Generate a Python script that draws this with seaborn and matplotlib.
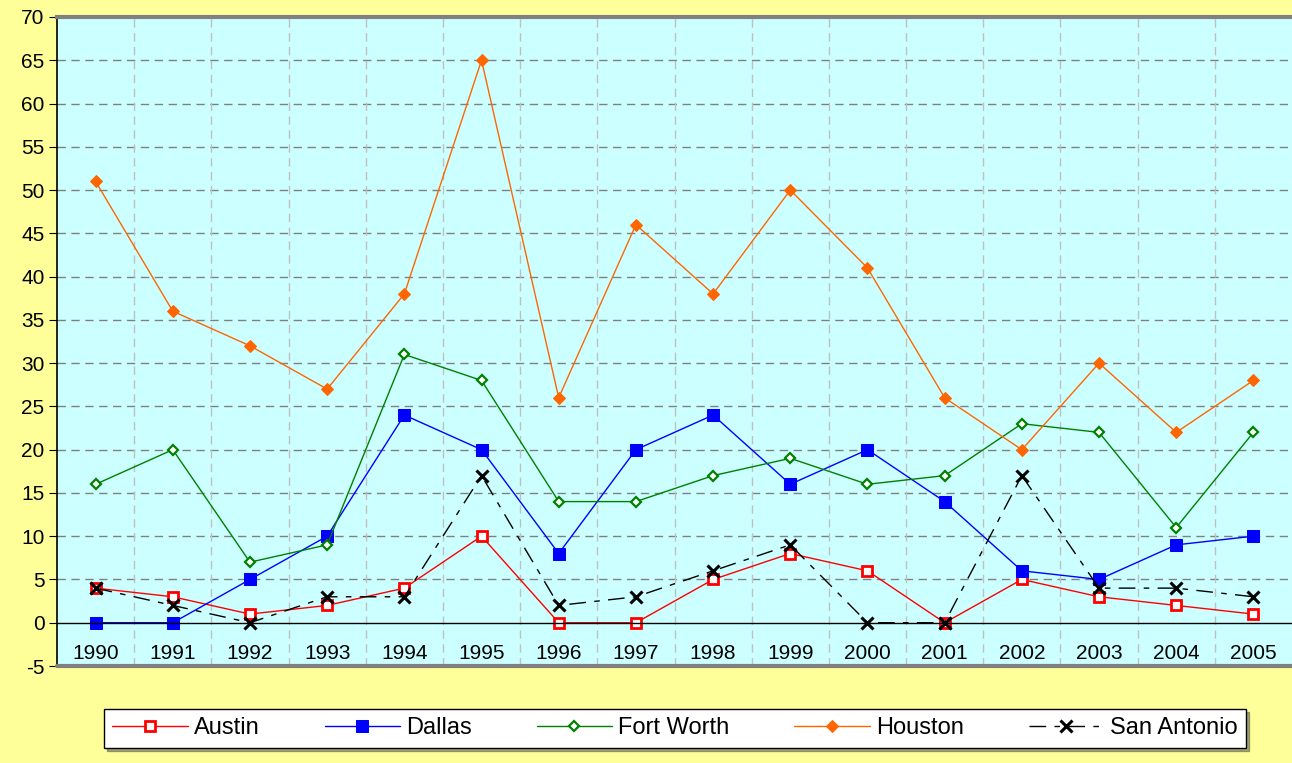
import numpy as np
import pandas as pd
import seaborn as sns
import matplotlib.pyplot as plt

# Data
years = [str(y) for y in range(1990, 2006)]
austin = [4, 3, 1, 2, 4, 10, 0, 0, 5, 8, 6, 0, 5, 3, 2, 1]
dallas = [0, 0, 5, 10, 24, 20, 8, 20, 24, 16, 20, 14, 6, 5, 9, 10]
fort_worth = [16, 20, 7, 9, 31, 28, 14, 14, 17, 19, 16, 17, 23, 22, 11, 22]
houston = [51, 36, 32, 27, 38, 65, 26, 46, 38, 50, 41, 26, 20, 30, 22, 28]
san_antonio = [4, 2, 0, 3, 3, 17, 2, 3, 6, 9, 0, 0, 17, 4, 4, 3]

sns.set_style("white")
plt.rcParams['font.family'] = ['Liberation Sans', 'DejaVu Sans']
plt.rcParams['axes.unicode_minus'] = False
plt.rcParams['text.color'] = 'black'
plt.rcParams['xtick.color'] = 'black'
plt.rcParams['ytick.color'] = 'black'

df = pd.DataFrame({'idx': np.arange(len(years)), 'Austin': austin, 'Dallas': dallas,
                   'Fort Worth': fort_worth, 'Houston': houston, 'San Antonio': san_antonio})

fig = plt.figure(figsize=(12.92, 7.63), dpi=100, facecolor='#FFFF99')
ax = fig.add_axes([57/1292, 97/763, 1 - 57/1292, (666-17)/763])
ax.set_facecolor('#CCFFFF')

styles = {
    'Austin': dict(color='#FF0000', marker='s', markersize=7, markerfacecolor='white',
                   markeredgecolor='#FF0000', markeredgewidth=2, linewidth=1),
    'Dallas': dict(color='#0000FF', marker='s', markersize=8, markerfacecolor='#0000FF',
                   markeredgecolor='#0000FF', linewidth=1),
    'Fort Worth': dict(color='#008000', marker='D', markersize=5, markerfacecolor='white',
                       markeredgecolor='#008000', markeredgewidth=1.6, linewidth=1),
    'Houston': dict(color='#FF6600', marker='D', markersize=6.5, markerfacecolor='#FF6600',
                    markeredgecolor='#FF6600', linewidth=1),
    'San Antonio': dict(color='black', marker='x', markersize=8, markeredgewidth=2.2,
                        markeredgecolor='black', linewidth=1, dashes=(12, 6, 4, 6)),
}

for name, kw in styles.items():
    sns.lineplot(data=df, x='idx', y=name, ax=ax, label=name, legend=False, **kw)

ax.set_xlim(-0.5, len(years) - 0.5)
ax.set_ylim(-5, 70)
ax.set_yticks(range(-5, 71, 5))
ax.set_xlabel('')
ax.set_ylabel('')

# x axis crosses at zero, like the original
ax.spines['bottom'].set_position(('data', 0))
ax.spines['bottom'].set_color('black')
ax.spines['bottom'].set_linewidth(1)
ax.spines['left'].set_color('black')
ax.spines['left'].set_linewidth(1.2)
ax.spines['top'].set_color('#808080')
ax.spines['top'].set_linewidth(3)
ax.spines['right'].set_visible(False)
ax.axhline(-5, color='#808080', linewidth=3, clip_on=False, zorder=5)

ax.set_xticks(np.arange(len(years)))
ax.set_xticklabels(years)
ax.set_xticks(np.arange(0.5, len(years) - 1, 1), minor=True)
ax.tick_params(axis='x', which='major', length=0, pad=15, labelsize=15, labelcolor='black')
ax.tick_params(axis='x', which='minor', length=5, direction='out', color='black')
ax.tick_params(axis='y', length=6, direction='out', color='black', labelsize=15, pad=3,
               left=True, labelcolor='black')

ax.grid(False)
for y in range(-5, 71, 5):
    if y not in (0, 70, -5):
        ax.axhline(y, color='#808080', linewidth=1, dashes=(6, 4), zorder=0.5)
for x in np.arange(0.5, len(years) - 1, 1):
    ax.axvline(x, color='#C0C0C0', linewidth=1, dashes=(6, 4), zorder=0.5)

handles, labels = ax.get_legend_handles_labels()
leg = fig.legend(handles, labels, loc='center', bbox_to_anchor=(675/1292, 34.5/763), ncol=5,
                 fontsize=17, handlelength=3.2, handletextpad=0.25, columnspacing=2.75,
                 frameon=True, fancybox=False, shadow=True, edgecolor='black', borderpad=0.35,
                 borderaxespad=0)
leg.get_frame().set_linewidth(1)

plt.savefig('out.png', dpi=100, facecolor=fig.get_facecolor())
